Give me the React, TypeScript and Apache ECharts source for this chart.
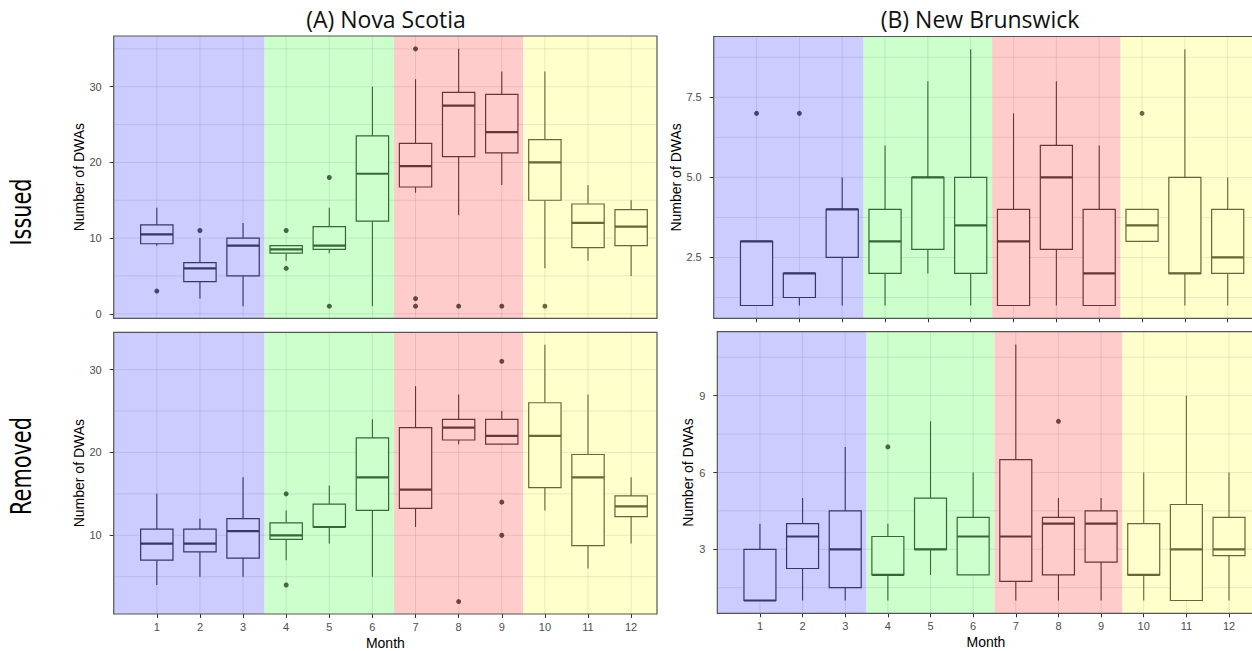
import React, { useEffect, useRef } from "react";
import * as echarts from "echarts";

// Months on the x axis
const MONTHS = [1, 2, 3, 4, 5, 6, 7, 8, 9, 10, 11, 12];

// Box statistics per month: [lower whisker, Q1, median, Q3, upper whisker]
const nsIssued = [
  [9, 9.25, 10.5, 11.75, 14],
  [2, 4.25, 6, 6.75, 10],
  [1, 5, 9, 10, 12],
  [7, 8, 8.5, 9, 9],
  [8, 8.5, 9, 11.5, 14],
  [1, 12.25, 18.5, 23.5, 30],
  [16, 16.75, 19.5, 22.5, 31],
  [13, 20.75, 27.5, 29.25, 35],
  [17, 21.25, 24, 29, 32],
  [6, 15, 20, 23, 32],
  [7, 8.75, 12, 14.5, 17],
  [5, 9, 11.5, 13.75, 15],
];
// Outliers: [month, value]
const nsIssuedOutliers = [
  [1, 3], [2, 11], [4, 11], [4, 6], [5, 18], [5, 1],
  [7, 35], [7, 2], [7, 1], [8, 1], [9, 1], [10, 1],
];

const nbIssued = [
  [1, 1, 3, 3, 3],
  [1, 1.25, 2, 2, 2],
  [1, 2.5, 4, 4, 5],
  [1, 2, 3, 4, 6],
  [2, 2.75, 5, 5, 8],
  [1, 2, 3.5, 5, 9],
  [1, 1, 3, 4, 7],
  [1, 2.75, 5, 6, 8],
  [1, 1, 2, 4, 6],
  [3, 3, 3.5, 4, 4],
  [1, 2, 2, 5, 9],
  [1, 2, 2.5, 4, 5],
];
const nbIssuedOutliers = [[1, 7], [2, 7], [10, 7]];

const nsRemoved = [
  [4, 7, 9, 10.75, 15],
  [5, 8, 9, 10.75, 12],
  [5, 7.25, 10.5, 12, 17],
  [7, 9.5, 10, 11.5, 13],
  [9, 11, 11, 13.75, 16],
  [5, 13, 17, 21.75, 24],
  [11, 13.25, 15.5, 23, 28],
  [21, 21.5, 23, 24, 27],
  [21, 21, 22, 24, 25],
  [13, 15.75, 22, 26, 33],
  [6, 8.75, 17, 19.75, 27],
  [9, 12.25, 13.5, 14.75, 17],
];
const nsRemovedOutliers = [[4, 15], [4, 4], [8, 2], [9, 31], [9, 14], [9, 10]];

const nbRemoved = [
  [1, 1, 1, 3, 4],
  [1, 2.25, 3.5, 4, 5],
  [1, 1.5, 3, 4.5, 7],
  [1, 2, 2, 3.5, 4],
  [2, 3, 3, 5, 8],
  [2, 2, 3.5, 4.25, 6],
  [1, 1.75, 3.5, 6.5, 11],
  [1, 2, 4, 4.25, 5],
  [1, 2.5, 4, 4.5, 5],
  [1, 2, 2, 4, 6],
  [1, 1, 3, 4.75, 9],
  [1, 2.75, 3, 4.25, 6],
];
const nbRemovedOutliers = [[4, 7], [8, 8]];

// Y-axis tick values (major labelled, minor grid only)
const nsIssuedTicks = [0, 10, 20, 30];
const nsIssuedMinor = [5, 15, 25, 35];
const nbIssuedTicks = [2.5, 5, 7.5];
const nbIssuedMinor = [1.25, 3.75, 6.25, 8.75];
const nsRemovedTicks = [10, 20, 30];
const nsRemovedMinor = [5, 15, 25];
const nbRemovedTicks = [3, 6, 9];
const nbRemovedMinor = [1.5, 4.5, 7.5, 10.5];

// Seasonal background bands along the month axis
const SEASON_BREAKS = [0, 3.5, 6.5, 9.5, 12.6];
const SEASON_FILL = ["#CCCCFF", "#CCFFCC", "#FFCCCC", "#FFFFCC"];
const SEASON_LINE = ["#36366a", "#366636", "#663636", "#666636"];
const SEASON_POINT = ["#23234a", "#234423", "#442323", "#444423"];

const BOX_WIDTH = 0.75;
const X_MIN = 0;
const X_MAX = 12.6;
const FONT = "'Liberation Sans', Arial, sans-serif";

const seasonOf = (m: number) => {
  for (let k = 0; k < 4; k++) {
    if (m < SEASON_BREAKS[k + 1]) return k;
  }
  return 3;
};

type Panel = {
  stats: number[][];
  outliers: number[][];
  ticks: number[];
  minor: number[];
  ymin: number;
  ymax: number;
  fmt: (v: number) => string;
  left: number;
  top: number;
  width: number;
  height: number;
  bottomRow: boolean;
  nameGap: number;
};

const intFmt = (v: number) => String(v);
const oneDec = (v: number) => v.toFixed(1);

const PANELS: Panel[] = [
  { stats: nsIssued, outliers: nsIssuedOutliers, ticks: nsIssuedTicks, minor: nsIssuedMinor,
    ymin: -0.6, ymax: 36.7, fmt: intFmt,
    left: 113.7, top: 36, width: 543.3, height: 282.3, bottomRow: false, nameGap: 25 },
  { stats: nbIssued, outliers: nbIssuedOutliers, ticks: nbIssuedTicks, minor: nbIssuedMinor,
    ymin: 0.6, ymax: 9.4, fmt: oneDec,
    left: 713.7, top: 36.5, width: 539.7, height: 281.8, bottomRow: false, nameGap: 22 },
  { stats: nsRemoved, outliers: nsRemovedOutliers, ticks: nsRemovedTicks, minor: nsRemovedMinor,
    ymin: 0.5, ymax: 34.5, fmt: intFmt,
    left: 113.7, top: 332.3, width: 543.3, height: 281.7, bottomRow: true, nameGap: 25 },
  { stats: nbRemoved, outliers: nbRemovedOutliers, ticks: nbRemovedTicks, minor: nbRemovedMinor,
    ymin: 0.5, ymax: 11.5, fmt: intFmt,
    left: 717.3, top: 331.7, width: 537.3, height: 281.6, bottomRow: true, nameGap: 19 },
];

function buildOption() {
  const grid: any[] = [];
  const xAxis: any[] = [];
  const yAxis: any[] = [];
  const series: any[] = [];
  const graphic: any[] = [];

  PANELS.forEach((p, i) => {
    grid.push({
      left: p.left, top: p.top, width: p.width, height: p.height,
      containLabel: false, outerBoundsMode: "none", show: false,
    });

    xAxis.push({
      type: "value", gridIndex: i, min: X_MIN, max: X_MAX,
      axisLine: { show: false },
      axisTick: { show: true, customValues: MONTHS, length: 4, lineStyle: { color: "#333333", width: 1 } },
      axisLabel: {
        show: p.bottomRow, customValues: MONTHS, color: "#4d4d4d", fontSize: 11,
        fontFamily: FONT, margin: 7,
      },
      splitLine: { show: false },
      name: p.bottomRow ? "Month" : "",
      nameLocation: "middle", nameGap: 22,
      nameTextStyle: { color: "#000000", fontSize: 14, fontFamily: FONT },
    });

    yAxis.push({
      type: "value", gridIndex: i, min: p.ymin, max: p.ymax,
      axisLine: { show: false },
      axisTick: { show: true, customValues: p.ticks, length: 4, lineStyle: { color: "#333333", width: 1 } },
      axisLabel: {
        customValues: p.ticks, formatter: p.fmt, color: "#4d4d4d", fontSize: 11,
        fontFamily: FONT, margin: 12,
      },
      splitLine: { show: false },
      name: "Number of DWAs", nameLocation: "middle", nameRotate: 90, nameGap: p.nameGap,
      nameTextStyle: { color: "#000000", fontSize: 14, fontFamily: FONT },
    });

    // Seasonal background bands
    series.push({
      type: "custom", xAxisIndex: i, yAxisIndex: i, z: 1, silent: true, clip: false,
      data: SEASON_FILL.map((_, k) => [SEASON_BREAKS[k], SEASON_BREAKS[k + 1], k]),
      renderItem: (_params: any, api: any) => {
        const a = api.coord([api.value(0), p.ymax]);
        const b = api.coord([api.value(1), p.ymin]);
        return {
          type: "rect",
          shape: { x: a[0], y: a[1], width: b[0] - a[0], height: b[1] - a[1] },
          style: { fill: SEASON_FILL[api.value(2)] },
        };
      },
    });

    // Panel grid lines: vertical at each month, horizontal at major and minor ticks
    const gridData = [
      ...MONTHS.map((m) => [m, 0]),
      ...p.ticks.map((v) => [v, 1]),
      ...p.minor.map((v) => [v, 1]),
    ];
    series.push({
      type: "custom", xAxisIndex: i, yAxisIndex: i, z: 2, silent: true, clip: false,
      data: gridData,
      renderItem: (_params: any, api: any) => {
        const v = api.value(0);
        const horiz = api.value(1) === 1;
        const a = horiz ? api.coord([X_MIN, v]) : api.coord([v, p.ymin]);
        const b = horiz ? api.coord([X_MAX, v]) : api.coord([v, p.ymax]);
        return {
          type: "line",
          shape: { x1: a[0], y1: a[1], x2: b[0], y2: b[1] },
          style: { stroke: "rgba(40,40,40,0.1)", lineWidth: 1 },
        };
      },
    });

    // Box plots
    series.push({
      type: "custom", xAxisIndex: i, yAxisIndex: i, z: 3, silent: true, clip: false,
      data: p.stats.map((s, k) => [MONTHS[k], ...s]),
      renderItem: (_params: any, api: any) => {
        const m = api.value(0);
        const season = seasonOf(m);
        const stroke = SEASON_LINE[season];
        const w = api.size([BOX_WIDTH, 0])[0];
        const pLo = api.coord([m, api.value(1)]);
        const pQ1 = api.coord([m, api.value(2)]);
        const pMed = api.coord([m, api.value(3)]);
        const pQ3 = api.coord([m, api.value(4)]);
        const pHi = api.coord([m, api.value(5)]);
        const x = pMed[0];
        return {
          type: "group",
          children: [
            { type: "line", shape: { x1: x, y1: pHi[1], x2: x, y2: pQ3[1] }, style: { stroke, lineWidth: 1.1 } },
            { type: "line", shape: { x1: x, y1: pQ1[1], x2: x, y2: pLo[1] }, style: { stroke, lineWidth: 1.1 } },
            {
              type: "rect",
              shape: { x: x - w / 2, y: pQ3[1], width: w, height: pQ1[1] - pQ3[1] },
              style: { fill: SEASON_FILL[season], stroke, lineWidth: 1.2 },
            },
            {
              type: "line",
              shape: { x1: x - w / 2, y1: pMed[1], x2: x + w / 2, y2: pMed[1] },
              style: { stroke, lineWidth: 2.2 },
            },
          ],
        };
      },
    });

    // Outlier points
    series.push({
      type: "scatter", xAxisIndex: i, yAxisIndex: i, z: 4, silent: true,
      symbol: "circle", symbolSize: 5,
      data: p.outliers,
      itemStyle: { color: (params: any) => SEASON_POINT[seasonOf(params.value[0])] },
    });

    // Panel border
    graphic.push({
      type: "rect", z: 100, silent: true,
      shape: { x: p.left, y: p.top, width: p.width, height: p.height },
      style: { fill: "none", stroke: "#555555", lineWidth: 1.2 },
    });
  });

  // Column titles
  graphic.push({
    type: "text", x: 386, y: 19, z: 100,
    style: { text: "(A) Nova Scotia", fill: "#111111", fontSize: 23, fontFamily: "'Open Sans', sans-serif", align: "center", verticalAlign: "middle" },
  });
  graphic.push({
    type: "text", x: 980, y: 19, z: 100,
    style: { text: "(B) New Brunswick", fill: "#111111", fontSize: 23, fontFamily: "'Open Sans', sans-serif", align: "center", verticalAlign: "middle" },
  });

  // Row labels
  const rowFont = "'Liberation Sans Narrow', 'DejaVu Sans Condensed', sans-serif";
  graphic.push({
    type: "text", x: 21, y: 212, rotation: Math.PI / 2, scaleX: 0.8, z: 100,
    style: { text: "Issued", fill: "#000000", fontSize: 29, fontFamily: rowFont, align: "center", verticalAlign: "middle" },
  });
  graphic.push({
    type: "text", x: 21, y: 466, rotation: Math.PI / 2, scaleX: 0.8, z: 100,
    style: { text: "Removed", fill: "#000000", fontSize: 29, fontFamily: rowFont, align: "center", verticalAlign: "middle" },
  });

  return {
    animation: false,
    backgroundColor: "#ffffff",
    grid, xAxis, yAxis, series, graphic,
  };
}

export default function App() {
  const ref = useRef<HTMLDivElement>(null);
  useEffect(() => {
    if (!ref.current) return;
    const chart = echarts.init(ref.current, undefined, { renderer: "svg" });
    chart.setOption(buildOption() as any);
    return () => chart.dispose();
  }, []);
  return (
    <div
      ref={ref}
      style={{ position: "absolute", left: 0, top: 0, width: 1252, height: 651 }}
    />
  );
}
